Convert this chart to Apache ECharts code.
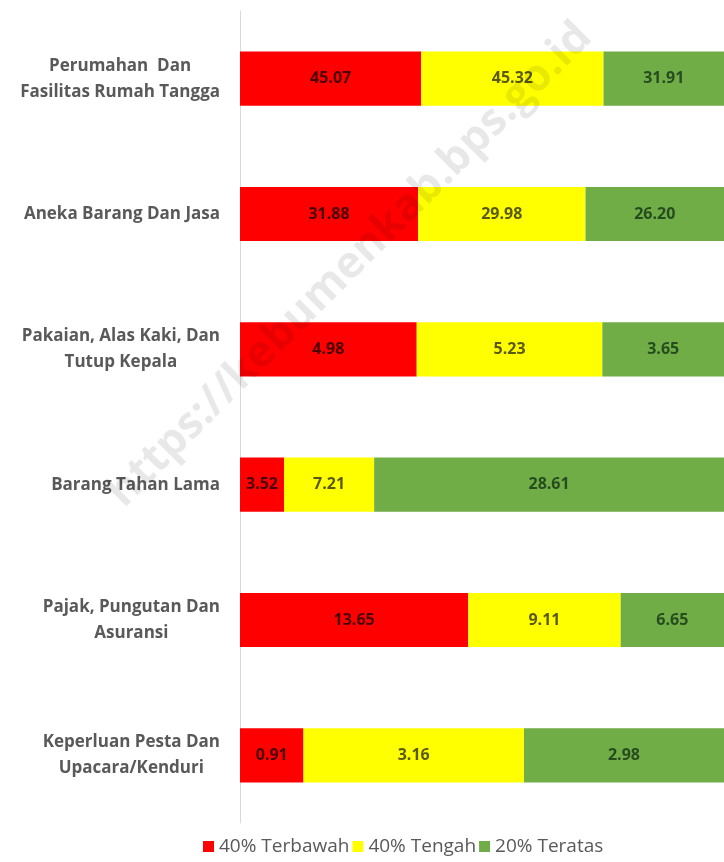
<!DOCTYPE html>
<html>
<head>
<meta charset="utf-8">
<script src="https://cdn.jsdelivr.net/npm/echarts@6/dist/echarts.min.js"></script>
<style>
  html, body { margin: 0; padding: 0; background: #fff; }
  #chart { width: 724px; height: 862px; }
</style>
</head>
<body>
<div id="chart"></div>
<script>
// kategori pengeluaran
const categories = [
  'Perumahan  Dan\nFasilitas Rumah Tangga',
  'Aneka Barang Dan Jasa',
  'Pakaian, Alas Kaki, Dan\nTutup Kepala',
  'Barang Tahan Lama',
  'Pajak, Pungutan Dan\nAsuransi',
  'Keperluan Pesta Dan\nUpacara/Kenduri'
];
const bottom40 = [45.07, 31.88, 4.98, 3.52, 13.65, 0.91];
const middle40 = [45.32, 29.98, 5.23, 7.21, 9.11, 3.16];
const top20 = [31.91, 26.20, 3.65, 28.61, 6.65, 2.98];
const seriesNames = ['40% Terbawah', '40% Tengah', '20% Teratas'];

// 100% stacked
const totals = bottom40.map((v, i) => v + middle40[i] + top20[i]);
const pct = arr => arr.map((v, i) => ({ value: v / totals[i] * 100, raw: v }));

const chart = echarts.init(document.getElementById('chart'));

const mkSeries = (name, arr, color, labelColor) => ({
  name: name,
  type: 'bar',
  stack: 'total',
  barCategoryGap: '60%',
  data: pct(arr),
  itemStyle: { color: color },
  label: {
    show: true,
    position: 'inside',
    fontFamily: 'Open Sans',
    fontWeight: 'bold',
    fontSize: 16,
    color: labelColor,
    formatter: p => p.data.raw.toFixed(2)
  }
});

chart.setOption({
  animation: false,
  legend: {
    bottom: 1,
    left: 198,
    itemWidth: 11,
    itemHeight: 11,
    itemGap: 3,
    icon: 'rect',
    textStyle: { fontFamily: 'Open Sans', fontSize: 19, color: '#595959' },
    data: seriesNames
  },
  grid: { left: 240, right: 0, top: 11, bottom: 39 },
  xAxis: {
    type: 'value',
    min: 0,
    max: 98.4, // plot area runs past the right edge in the original
    show: false
  },
  yAxis: {
    type: 'category',
    inverse: true,
    data: categories,
    axisLine: { lineStyle: { color: '#d9d9d9' } },
    axisTick: { show: false },
    axisLabel: {
      margin: 20,
      align: 'right',
      color: '#595959',
      formatter: v => v.split('\n').map(s => '{c|' + s + '}').join('\n'),
      rich: {
        c: {
          align: 'center',
          fontFamily: 'Open Sans',
          fontWeight: 'bold',
          fontSize: 17,
          lineHeight: 26,
          color: '#595959'
        }
      }
    }
  },
  graphic: [{
    type: 'text',
    x: 350,
    y: 265,
    rotation: Math.PI / 4,
    silent: true,
    z: 100,
    style: {
      text: 'https://kebumenkab.bps.go.id',
      x: 0, y: 0,
      align: 'center',
      verticalAlign: 'middle',
      font: 'bold 44px "Open Sans"',
      fill: 'rgba(0,0,0,0.09)'
    }
  }],
  series: [
    mkSeries(seriesNames[0], bottom40, '#ff0000', 'rgba(40,0,0,0.85)'),
    mkSeries(seriesNames[1], middle40, '#ffff00', 'rgba(60,60,20,0.85)'),
    mkSeries(seriesNames[2], top20, '#70ad47', 'rgba(20,50,20,0.8)')
  ]
});
</script>
</body>
</html>
